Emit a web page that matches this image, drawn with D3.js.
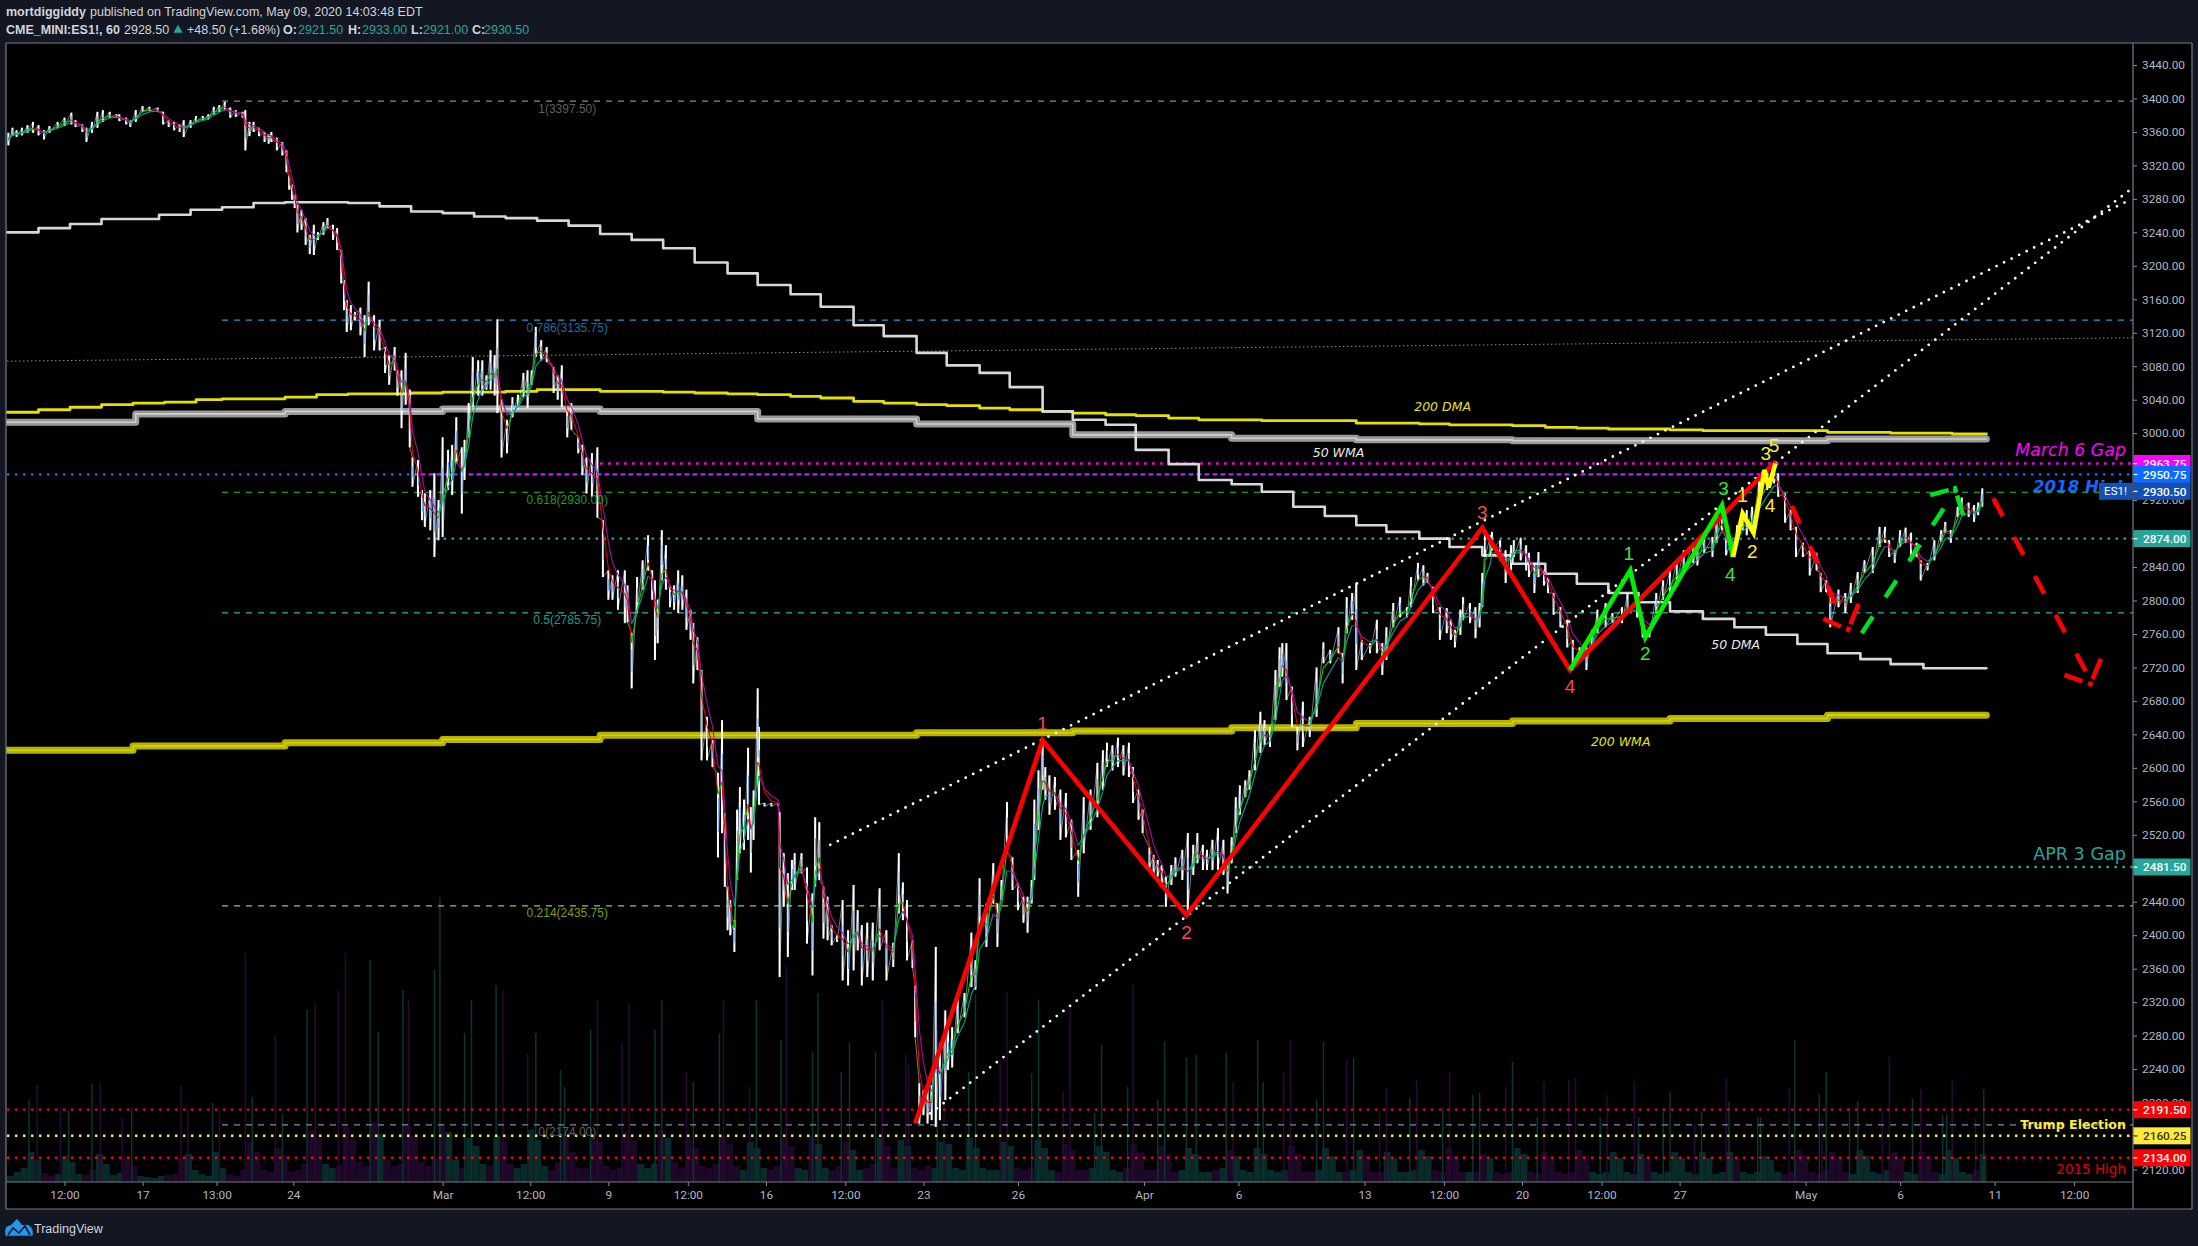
<!DOCTYPE html>
<html><head><meta charset="utf-8">
<script src="https://cdn.jsdelivr.net/npm/d3@7"></script>
<style>html,body{margin:0;padding:0;background:#131722}svg{display:block}</style>
</head><body><svg id="c" width="2198" height="1246"></svg>
<script>
// ---- candles, sampled by hand: bar number, high, low
const barIdx=[1,4,7,11,15,19,23,27,31,37,42,47,50,55,58,62,66,70,75,80,82,87,90,94,99,104,110,114,118,122,126,129,134,138,143,147,151,155,159,163,167,172,174,177,180,184,188,191,193,197,201,204,206,208,210,212,215,218,221,224,227,231,234,238,241,244,246,248,251,254,258,261,264,268,272,276,279,283,285,288,291,294,296,300,303,305,309,312,315,318,322,325,328,332,334,337,340,344,347,350,353,356,358,361,365,369,373,377,380,383,386,390,394,399,402,405,409,412,417,420,423,427,431,435,439,442,446,451,453,456,460,464,468,471,473,475,478,481,484,487,490,493,496,499,501,504,507,511,515,519,522,524,526,528,531,533,535,538,541,543,545,548,549,553,558,563,564,567,570,573,575,580,584,588,590,593,596,599,602,606,610,614,618,621,624,628,632,637,642,647,651,654,657,661,663,666,669,672,675,678,681,685,687,690,694,699,704,707,710,715,720,723,726,730,734,738,742,745,748,750,753,756,758,761,765,769,773,777,782,786,791,796,800,803,807,811,815,819,822,826,829,834,837,840,843,846,850,853,858,862,866,869,873,876,880,884,888,891,894,897,900,904,907,911,915,918,922,926,929,931,934,938,942,946,951,956,961,966,972,975,978,982,985,989,995,1000,1004,1007,1012,1017,1022,1025,1030,1034,1037,1041,1046,1051,1054,1057,1061,1063,1068,1072,1075,1077,1079,1083,1084,1090,1094,1098,1100,1105,1109,1111,1115,1118,1122,1125,1129,1134,1139,1143,1148,1153,1157,1161,1167,1172,1179,1183,1190,1194,1199,1204,1209,1214,1219,1224,1231,1234,1239,1245,1248,1252,1255,1259,1263,1267,1270,1274,1279,1285,1290,1293,1298,1302,1306,1311,1316,1321,1324,1328,1331,1337,1342,1346,1351,1356,1362,1367,1371,1374,1378,1382,1386,1390,1394,1397,1402,1407,1412,1415,1419,1424,1427,1432,1436,1439,1442];
const highs=[3359,3365,3362,3365,3368,3372,3368,3362,3367,3372,3377,3383,3374,3369,3365,3372,3384,3386,3384,3381,3381,3377,3374,3386,3391,3390,3389,3384,3374,3372,3369,3374,3374,3379,3379,3381,3390,3392,3396,3389,3386,3384,3386,3372,3372,3365,3360,3357,3360,3353,3348,3338,3308,3297,3285,3273,3267,3257,3237,3249,3240,3252,3257,3249,3245,3219,3183,3159,3153,3145,3150,3141,3181,3141,3135,3103,3093,3103,3075,3075,3096,3052,2971,2968,2932,2928,2932,2952,2920,2995,2980,2986,3019,2983,2992,3036,3091,3087,3087,3069,3099,3093,3136,3040,3016,3043,3046,3072,3075,3075,3127,3111,3103,3079,3069,3081,3031,3036,2995,2986,2971,2976,2983,2896,2836,2830,2836,2836,2818,2761,2828,2848,2878,2836,2824,2801,2884,2866,2818,2818,2836,2830,2813,2789,2773,2756,2717,2661,2633,2594,2657,2546,2458,2442,2418,2550,2577,2562,2624,2553,2573,2695,2649,2558,2558,2558,2547,2498,2474,2490,2498,2498,2481,2450,2541,2535,2458,2446,2412,2400,2442,2406,2460,2430,2412,2415,2415,2456,2406,2391,2498,2463,2442,2394,2340,2223,2215,2215,2221,2386,2271,2310,2287,2290,2326,2331,2403,2370,2468,2438,2486,2438,2466,2559,2493,2462,2446,2446,2466,2562,2597,2633,2601,2591,2589,2574,2570,2538,2502,2565,2574,2606,2621,2630,2627,2636,2627,2630,2601,2574,2550,2505,2496,2490,2484,2470,2484,2493,2502,2522,2508,2522,2508,2502,2514,2528,2514,2486,2517,2565,2579,2585,2597,2645,2667,2657,2649,2717,2744,2749,2749,2697,2649,2679,2661,2720,2750,2741,2768,2737,2804,2809,2821,2753,2749,2777,2749,2768,2797,2804,2792,2828,2845,2842,2833,2816,2792,2791,2777,2765,2789,2804,2797,2792,2797,2833,2881,2878,2882,2872,2860,2866,2872,2875,2866,2857,2845,2858,2836,2827,2809,2792,2777,2753,2744,2744,2765,2789,2797,2785,2792,2809,2801,2777,2768,2809,2824,2836,2848,2860,2869,2866,2876,2876,2900,2912,2876,2872,2890,2904,2908,2912,2944,2956,2964,2952,2928,2908,2888,2869,2860,2857,2833,2824,2804,2813,2809,2821,2834,2848,2864,2888,2888,2872,2860,2884,2887,2881,2869,2848,2845,2872,2884,2894,2884,2912,2923,2917,2914,2917,2934];
const lows=[3344,3356,3354,3356,3359,3359,3356,3351,3359,3365,3367,3369,3366,3360,3348,3359,3365,3372,3377,3377,3373,3369,3366,3372,3384,3385,3384,3369,3366,3362,3360,3354,3365,3372,3374,3375,3381,3384,3386,3377,3378,3377,3338,3355,3360,3355,3348,3346,3348,3338,3332,3312,3291,3279,3269,3240,3243,3225,3214,3213,3231,3237,3245,3231,3219,3179,3147,3121,3123,3135,3117,3091,3129,3099,3099,3072,3058,3075,3045,3006,3034,2983,2936,2924,2896,2888,2884,2852,2872,2876,2932,2926,2964,2904,2944,2995,3031,3045,3045,3052,3052,3045,3024,2971,2976,3019,3028,3043,3030,3058,3091,3087,3085,3048,3040,3031,2995,3004,2976,2950,2928,2924,2899,2828,2801,2801,2789,2773,2774,2695,2785,2813,2836,2801,2729,2749,2824,2813,2792,2789,2785,2789,2765,2753,2701,2717,2609,2609,2601,2493,2522,2458,2406,2400,2380,2466,2498,2502,2514,2475,2514,2577,2556,2554,2554,2554,2350,2434,2374,2454,2454,2474,2390,2352,2458,2466,2396,2394,2388,2392,2346,2340,2358,2382,2340,2350,2346,2382,2346,2362,2426,2418,2370,2361,2278,2175,2185,2175,2179,2171,2179,2203,2239,2242,2283,2302,2338,2335,2403,2386,2438,2386,2442,2498,2454,2430,2415,2403,2438,2466,2526,2574,2562,2544,2550,2514,2517,2490,2446,2498,2526,2541,2574,2601,2597,2601,2591,2589,2558,2538,2522,2478,2472,2470,2460,2434,2460,2470,2466,2426,2472,2486,2478,2478,2478,2478,2472,2450,2486,2522,2544,2565,2574,2597,2618,2627,2625,2657,2697,2709,2681,2649,2621,2625,2637,2661,2725,2725,2737,2701,2761,2777,2717,2729,2737,2737,2711,2729,2768,2780,2780,2792,2824,2818,2821,2785,2753,2761,2753,2744,2759,2777,2773,2755,2768,2792,2852,2854,2860,2848,2821,2836,2852,2848,2836,2828,2809,2828,2818,2809,2783,2768,2744,2717,2729,2717,2741,2761,2768,2773,2773,2785,2780,2756,2756,2785,2801,2809,2822,2836,2845,2842,2857,2852,2869,2884,2854,2852,2866,2884,2878,2881,2917,2932,2940,2924,2893,2884,2852,2852,2830,2836,2810,2810,2768,2792,2785,2797,2809,2833,2833,2864,2869,2852,2845,2864,2869,2852,2852,2824,2836,2848,2870,2881,2869,2900,2908,2900,2894,2902,2912];

// ---- volume: hourly-session background samples and the spikes above them
const volFloor=[6,10,14,30,22,9,6,8,26,20,8,7,12,28,18,7,9,24,16,6,5,4,6,7,8,24,28,12,8,6,30,14,8,6,12,40,30,12,10,34,26,10,12,18,52,44,18,14,16,55,42,20,16,60,48,22,16,18,56,46,20,16,24,58,50,22,14,44,36,18,16,46,40,18,14,18,52,42,16,12,20,48,30,14,14,44,40,16,12,14,50,42,18,14,18,52,44,20,14,42,34,16,14,18,46,38,16,12,40,34,14,12,16,44,36,14,12,46,38,14,12,16,40,32,12,14,18,44,36,14,42,36,14,12,16,14,40,38,14,12,44,34,14,12,12,40,36,14,12,14,42,34,12,10,38,32,12,12,14,36,30,12,10,14,38,30,12,12,36,28,10,12,34,28,10,10,12,14,32,26,12,10,34,28,12,10,12,36,28,10,10,12,34,26,10,10,12,32,26,10,10,30,24,10,10,12,32,26,12,10,34,26,10,10,10,28,24,10,8,10,34,28,10,8,30,24,10,8,10,32,26,10,8,10,30,24,10,8,28,24,10,8,10,30,24,10,8,30,24,8,10,30,24,10,8,10,26,22,10,8,10,32,26,10,8,12,30,24,10,8,32,26,10,8,12,30,24,10,8,30,26,10,8,32,24,10,8,12,28];
const spikeBars=[16,22,39,45,62,68,84,91,127,132,150,155,174,179,196,201,219,225,242,247,265,271,289,293,312,316,334,339,357,362,380,386,404,407,426,431,449,454,473,478,496,501,520,523,542,547,565,569,588,592,609,615,634,639,656,658,679,684,702,707,725,730,748,753,771,776,794,799,818,822,840,845,861,868,890,895,913,917,932,937,956,961,978,983,1002,1007,1024,1029,1048,1053,1070,1075,1094,1099,1117,1122,1140,1145,1163,1168,1188,1191,1209,1214,1232,1237,1255,1257,1278,1280,1301,1305,1323,1325,1328,1345,1351,1369,1374,1391,1397,1413,1416,1420,1437,1443];
const spikeVols=[82,97,75,72,98,99,65,74,97,72,79,72,229,85,147,69,172,179,192,229,222,150,192,182,212,285,149,182,197,192,129,149,112,95,153,182,139,179,152,182,110,100,149,182,95,182,142,216,130,189,110,139,130,182,127,119,152,173,110,188,122,190,109,182,90,175,69,137,95,198,82,140,125,127,129,100,142,100,110,142,83,140,122,124,69,94,84,102,75,110,87,89,95,120,65,100,102,104,65,87,100,65,74,90,59,70,104,80,65,65,94,142,88,65,110,74,81,70,125,83,93,67,68,102,63,93];
const spikeUp=[1,0,0,1,1,0,0,1,0,0,1,0,0,1,0,1,1,0,0,0,1,1,1,0,1,1,1,1,1,0,0,1,1,1,1,0,0,0,1,1,0,1,1,0,0,1,1,0,1,1,1,1,1,0,0,0,1,0,1,1,0,0,1,1,0,0,1,1,1,0,1,1,1,1,1,0,1,1,0,0,1,1,0,1,0,0,1,0,1,0,1,1,0,1,1,0,0,0,1,0,0,1,1,1,0,1,0,1,1,1,0,1,1,0,1,1,1,0,0,1,0,1,1,0,0,1];

// ---- moving averages as weekly / daily steps: first bar of each step, value
const dma50Bars=[0,23,46,69,111,134,157,180,203,249,272,295,318,341,364,387,410,433,456,479,502,526,548,572,594,618,640,664,686,710,732,756,778,802,824,848,870,894,916,939,962,985,1007,1031,1053,1077,1099,1123,1146,1169,1191,1214,1238,1261,1284,1307,1329,1353,1375,1399,1445];
const dma50Vals=[3240,3245,3250,3256,3261,3267,3270,3275,3276,3275,3271,3265,3263,3259,3257,3254,3248,3238,3231,3221,3204,3191,3177,3166,3151,3129,3116,3096,3081,3072,3055,3026,3016,3010,2980,2963,2944,2939,2930,2912,2901,2890,2882,2874,2864,2854,2844,2832,2820,2809,2798,2787,2778,2768,2759,2748,2737,2730,2724,2719,2719];
const dma200Bars=[0,23,46,69,92,115,138,157,180,203,226,249,295,318,364,387,433,479,502,526,548,572,594,618,640,664,686,710,732,756,778,802,824,848,870,894,916,939,985,1031,1053,1099,1123,1146,1169,1214,1238,1307,1329,1375,1420,1445];
const dma200Vals=[3025,3028,3031,3034,3036,3037,3040,3041,3041,3043,3046,3047,3048,3049,3050,3052,3050,3049,3048,3047,3046,3044,3042,3038,3036,3034,3033,3030,3028,3026,3024,3022,3021,3018,3016,3016,3015,3015,3012,3011,3010,3009,3007,3006,3005,3004,3003,3003,3001,3000,2999,2999];
const wma50Bars=[0,94,203,318,433,548,664,778,894,985,1099,1214,1329,1445];
const wma50Vals=[3013,3023,3026,3029,3026,3017,3011,2998,2994,2992,2991,2991,2993,2993];
const wma200Bars=[0,92,203,318,433,664,778,894,985,1099,1214,1329,1445];
const wma200Vals=[2621,2626,2630,2634,2639,2642,2644,2648,2653,2656,2659,2663,2663];

// ---- horizontal levels
const fibPrices=[3397.5,3135.75,2930,2785.75,2435.75,2174];
const fibLabels=["1(3397.50)","0.786(3135.75)","0.618(2930.00)","0.5(2785.75)","0.214(2435.75)","0(2174.00)"];
const fibLine=["#8a8a8a","#1e9be0","#22c922","#26b89a","#a9c81e","#8a8a8a"];
const fibText=["#5f5f5f","#1d6d9e","#1f9c1f","#1c9c84","#7e9a10","#5f5f5f"];
const levelPrices=[2963.75,2950.75,2874,2481.5,2191.5,2160.25,2134];
const levelFrom=[433,0,307,896,0,0,0];
const levelColor=["#ff00ff","#1e6bff","#26a69a","#26a69a","#ff0000","#ffeb3b","#ff0000"];

// ---- wave counts and drawn lines: [bar, price]
const redWave=[[663,2175],[756,2633],[861,2424],[1077,2887],[1141,2717],[1291,2966]];
const greenWave=[[1141,2717],[1185,2836],[1196,2756],[1252,2914],[1260,2852]];
const yellowWave=[[1260,2852],[1267,2904],[1275,2881],[1283,2956],[1286,2935],[1291,2964]];
const redDash1=[[1303,2913],[1337,2788]];
const redDash2=[[1326,2778],[1344,2765],[1353,2801]];
const redDash3=[[1450,2922],[1518,2714]];
const redDash4=[[1502,2711],[1521,2700],[1529,2732]];
const greenDash1=[[1354,2761],[1415,2913]];
const greenDash2=[[1404,2926],[1422,2934],[1428,2902]];
const trendUpper=[[601,2508],[1550,3279]];
const trendLower=[[674,2187],[1550,3291]];
const trendFaint=[[0,3086],[1552,3114]];
const waveText=[["1",756,2653,"#f44b4b"],["2",861,2404,"#f44b4b"],["3",1077,2906,"#f44b4b"],["4",1141,2698,"#f44b4b"],
 ["1",1184,2857,"#3fe03f"],["2",1196,2737,"#3fe03f"],["3",1253,2934,"#3fe03f"],["4",1258,2832,"#3fe03f"],
 ["1",1267,2926,"#ffeb3b"],["2",1274,2859,"#ffeb3b"],["3",1284,2976,"#ffeb3b"],["4",1287,2914,"#ffeb3b"],["5",1290,2986,"#ffeb3b"]];
const maText=[["200 DMA",1048,3032,"#e6e020"],["50 WMA",972,2977,"#e8e8e8"],["50 DMA",1262,2747,"#e8e8e8"],["200 WMA",1178,2632,"#e6e020"]];

// ---- axes
const priceTicks=d3.range(2120,3441,40);
const timeBars=[42,99,153,209,318,382,439,497,554,612,669,738,830,899,991,1049,1106,1164,1221,1313,1382,1451,1509];
const timeText=["12:00","17","13:00","24","Mar","12:00","9","12:00","16","12:00","23","26","Apr","6","13","12:00","20","12:00","27","May","6","11","12:00"];
const boxPrices=[2963.75,2950.75,2930.5,2874,2481.5,2191.5,2160.25,2134];
const boxFill=["#ff00ff","#0d6bff","#1450b4","#26a69a","#26a69a","#ff0000","#ffeb3b","#ff0000"];
const boxInk=["#fff","#fff","#fff","#fff","#fff","#fff","#333","#fff"];

const L=6,R=2133,T=43,B=1182,RR=2192,BB=1209;
const svg=d3.select("#c");
const FONT="'Liberation Sans',Arial,sans-serif", VERD="'DejaVu Sans',sans-serif";
svg.append("rect").attr("width",2198).attr("height",1246).attr("fill","#131722");
svg.append("rect").attr("x",L).attr("y",T).attr("width",RR-L).attr("height",BB-T).attr("fill","#000");
svg.append("clipPath").attr("id","pane").append("rect").attr("x",L).attr("y",T).attr("width",R-L).attr("height",B-T);

const x=d3.scaleLinear().domain([0,1552]).range([7,2133]);
const y=d3.scaleLinear().domain([3440,2120]).range([65,1169.5]);
const v=d3.scaleLinear().domain([0,300]).range([B,B-300]);

// the "2018 High" note sits under the chart marks and the price tag
svg.append("text").attr("x",2033).attr("y",y(2937)).attr("dy","0.36em").attr("font-family",VERD).attr("font-style","italic").attr("font-weight","bold").attr("font-size",16.6).attr("fill","#1565ff").text("2018 High");

const pane=svg.append("g").attr("clip-path","url(#pane)");
const line=d3.line().x(d=>x(d[0])).y(d=>y(d[1]));
const step=d3.line().x(d=>x(d[0])).y(d=>y(d[1])).curve(d3.curveStepAfter);
const zip=(a,b)=>a.map((d,i)=>[d,b[i]]);

// volume
const TEAL="#082a29",PURP="#1e0828";
const mids=highs.map((h,i)=>(h+lows[i])/2);
const floorW=x(5)-x(0);
pane.append("g").selectAll("rect").data(volFloor).join("rect")
 .attr("x",(d,i)=>x(i*5)).attr("width",floorW).attr("y",d=>v(d)).attr("height",d=>B-v(d))
 .attr("fill",(d,i)=>{const k=d3.bisectLeft(barIdx,i*5),a=mids[Math.max(0,k-3)],b=mids[Math.min(mids.length-1,k)];return b>=a?TEAL:PURP;});
pane.append("g").selectAll("rect").data(spikeBars).join("rect")
 .attr("x",d=>x(d)-0.7).attr("width",1.5).attr("y",(d,i)=>v(spikeVols[i])).attr("height",(d,i)=>B-v(spikeVols[i]))
 .attr("fill",(d,i)=>spikeUp[i]?"#0a3432":"#280a36");

// fib levels
const fibFrom=157;
pane.append("g").selectAll("line").data(fibPrices).join("line")
 .attr("x1",x(fibFrom)).attr("x2",R).attr("y1",d=>y(d)+.5).attr("y2",d=>y(d)+.5)
 .attr("stroke",(d,i)=>fibLine[i]).attr("stroke-width",1.2).attr("stroke-dasharray","6,6");
svg.append("g").selectAll("text").data(fibLabels).join("text")
 .attr("x",x(409)).attr("y",(d,i)=>y(fibPrices[i])+12).attr("text-anchor","middle")
 .attr("font-family",FONT).attr("font-size",12).attr("fill",(d,i)=>fibText[i]).text(d=>d);

// faint trend line
pane.append("path").attr("d",line(trendFaint)).attr("fill","none").attr("stroke","#8f8f8f").attr("stroke-width",1).attr("stroke-dasharray","1.5,2.5");

// dotted levels
pane.append("g").selectAll("line").data(levelPrices).join("line")
 .attr("x1",(d,i)=>x(levelFrom[i])).attr("x2",R).attr("y1",d=>y(d)).attr("y2",d=>y(d))
 .attr("stroke",(d,i)=>levelColor[i]).attr("stroke-width",2.4).attr("stroke-dasharray","2.5,5.5");
pane.append("line").attr("x1",x(299)).attr("x2",x(1420)).attr("y1",y(2950.75)).attr("y2",y(2950.75))
 .attr("stroke","#ff00ff").attr("stroke-width",2.4).attr("stroke-dasharray","2.5,5.5").attr("stroke-dashoffset",4);

// stepped averages
const stair=(b,vals,c,w)=>pane.append("path").attr("d",step(zip(b,vals))).attr("fill","none").attr("stroke",c).attr("stroke-width",w).attr("stroke-linejoin","round").attr("stroke-linecap","round");
stair(wma200Bars,wma200Vals,"#b5b100",7); stair(wma200Bars,wma200Vals,"#d6d20a",1.6);
stair(wma50Bars,wma50Vals,"#9a9a9a",7); stair(wma50Bars,wma50Vals,"#cfcfcf",1.6);
stair(dma200Bars,dma200Vals,"#e4e000",2.8);
stair(dma50Bars,dma50Vals,"#d8d8d8",2.6);

// candles
const zig=[];barIdx.forEach((b,i)=>{zig.push([b,highs[i]]);zig.push([b,lows[i]]);});
pane.append("path").attr("d",line(zig)).attr("fill","none").attr("stroke","#ffffff").attr("stroke-width",.8).attr("opacity",.6);
pane.append("g").selectAll("rect").data(barIdx).join("rect")
 .attr("x",d=>x(d)-1).attr("width",2).attr("y",(d,i)=>y(highs[i])).attr("height",(d,i)=>y(lows[i])-y(highs[i])).attr("fill","#fff");
pane.append("g").selectAll("rect").data(barIdx).join("rect")
 .attr("x",d=>x(d)-.1).attr("width",.9).attr("y",(d,i)=>y(highs[i])+(y(lows[i])-y(highs[i]))*.3).attr("height",(d,i)=>(y(lows[i])-y(highs[i]))*.4).attr("fill","#5d9cec");

// trend-coloured averages computed from the candles
function ema(a,al){const o=[];a.forEach((d,i)=>o.push(i?o[i-1]+al*(d-o[i-1]):d));return o;}
function drawMa(al,up,dn,w){
 const m=ema(mids,al);
 pane.append("g").selectAll("line").data(m.slice(1)).join("line")
  .attr("x1",(d,i)=>x(barIdx[i])).attr("x2",(d,i)=>x(barIdx[i+1]))
  .attr("y1",(d,i)=>y(m[i])).attr("y2",d=>y(d))
  .attr("stroke",(d,i)=>d>=m[i]?up:dn).attr("stroke-width",w);
}
drawMa(.7,"#00d000","#e00000",1.1);
drawMa(.45,"#0aa0a0","#a3129f",1.1);

// dotted channel lines
[trendUpper,trendLower].forEach(t=>pane.append("path").attr("d",line(t)).attr("fill","none").attr("stroke","#fff").attr("stroke-width",2.8).attr("stroke-linecap","round").attr("stroke-dasharray","0,8.4"));

// waves
const wave=(p,c,w,dash)=>pane.append("path").attr("d",line(p)).attr("fill","none").attr("stroke",c).attr("stroke-width",w).attr("stroke-linejoin","miter").attr("stroke-dasharray",dash||null);
wave(redWave,"#ff0000",4.6);
wave(greenWave,"#00f000",4.6);
wave(yellowWave,"#ffff00",4.6);
wave(redDash1,"#ff0000",4.6,"19,25");
wave(redDash2,"#ff0000",4.6,"19,6,5,3,22");
wave(redDash3,"#ff0000",4.6,"20,24");
wave(redDash4,"#ff0000",4.6,"19,6,5,3,22");
wave(greenDash1,"#00e020",4.6,"20,23");
wave(greenDash2,"#00e020",4.6,"19,5,6,3,22");

svg.append("g").selectAll("text").data(waveText).join("text")
 .attr("x",d=>x(d[1])).attr("y",d=>y(d[2])).attr("dy","0.36em").attr("text-anchor","middle")
 .attr("font-family",FONT).attr("font-size",19).attr("fill",d=>d[3]).text(d=>d[0]);
svg.append("g").selectAll("text").data(maText).join("text")
 .attr("x",d=>x(d[1])).attr("y",d=>y(d[2])).attr("dy","0.36em").attr("text-anchor","middle")
 .attr("font-family",VERD).attr("font-style","italic").attr("font-size",12.5).attr("fill",d=>d[3]).text(d=>d[0]);

// axes
const axisInk="#b4b7c0";
const gy=svg.append("g").attr("transform",`translate(${R},0)`).call(d3.axisRight(y).tickValues(priceTicks).tickFormat(d3.format(".2f")).tickSize(4).tickPadding(5));
gy.select(".domain").remove();
gy.selectAll("line").attr("stroke","#8a8d96");
gy.selectAll("text").attr("fill",axisInk).attr("font-family","Roboto,sans-serif").attr("font-size",11.8);
const gx=svg.append("g").attr("transform",`translate(0,${B})`).call(d3.axisBottom(x).tickValues(timeBars).tickFormat((d,i)=>timeText[i]).tickSize(4).tickPadding(5));
gx.select(".domain").remove();
gx.selectAll("line").attr("stroke","#8a8d96");
gx.selectAll("text").attr("fill",axisInk).attr("font-family","Roboto,sans-serif").attr("font-size",11.8);

// frame
const frame=(a,b,c,d)=>svg.append("line").attr("x1",a).attr("y1",b).attr("x2",c).attr("y2",d).attr("stroke","#787b86").attr("stroke-width",1.2);
frame(L,T,RR,T);frame(L,T,L,BB);frame(RR,T,RR,BB);frame(L,BB,RR,BB);frame(R,T,R,BB);frame(L,B,R,B);

// right-side notes
const note=(s,p,c,size,o={})=>svg.append("text").attr("x",2126).attr("y",y(p)).attr("dy","0.36em").attr("text-anchor","end")
 .attr("font-family",VERD).attr("font-size",size).attr("fill",c).attr("font-style",o.it?"italic":null).attr("font-weight",o.b?"bold":null).text(s);
note("March 6 Gap",2980,"#ff00ff",17.4,{it:1});
note("APR 3 Gap",2498,"#26a69a",17.6);
note("Trump Election",2174,"#ffeb3b",12.6,{b:1});
note("2015 High",2120,"#e00000",13.5);

// right price boxes
const boxes=svg.append("g");
boxPrices.forEach((p,i)=>{
 boxes.append("rect").attr("x",R+.5).attr("y",y(p)-8.5).attr("width",57).attr("height",17).attr("fill",boxFill[i]);
 boxes.append("rect").attr("x",R+.5).attr("y",y(p)-.5).attr("width",4).attr("height",1.2).attr("fill",i==6?"#333":"#fff");
 boxes.append("text").attr("x",R+10).attr("y",y(p)).attr("dy","0.36em").attr("font-family","Roboto,sans-serif").attr("font-weight",500).attr("font-size",11.8).attr("fill",boxInk[i]).text(p.toFixed(2));
});
boxes.append("rect").attr("x",2099).attr("y",y(2930.5)-8.5).attr("width",33).attr("height",17).attr("fill","#1450b4");
boxes.append("text").attr("x",2115.5).attr("y",y(2930.5)).attr("dy","0.36em").attr("text-anchor","middle").attr("font-family","Roboto,sans-serif").attr("font-size",11.5).attr("fill","#fff").text("ES1!");

// header
const head=(s,xx,yy,c,b)=>svg.append("text").attr("x",xx).attr("y",yy).attr("font-family",FONT).attr("font-size",12.5).attr("fill",c).attr("font-weight",b?"bold":null).text(s);
const W="#d1d4dc",G="#26a69a";
head("mortdiggiddy",6,16,W,1);
head("published on TradingView.com, May 09, 2020 14:03:48 EDT",90,16,W);
head("CME_MINI:ES1!, 60",6,34,W,1);
head("2928.50",124,34,W);
svg.append("path").attr("d",d3.symbol(d3.symbolTriangle,36)()).attr("transform","translate(178,30) ").attr("fill",G);
head("+48.50 (+1.68%)",187,34,W);
head("O:",283,34,W,1);head("2921.50",298,34,G);
head("H:",348,34,W,1);head("2933.00",362,34,G);
head("L:",411,34,W,1);head("2921.00",423,34,G);
head("C:",472,34,W,1);head("2930.50",484,34,G);

// logo
svg.append("path").attr("d","M6 1235 L6 1230 Q7 1226 11 1226 L17 1220 L22 1226 Q31 1224 32 1232 L32 1235 Z").attr("fill","#2196f3").attr("stroke","#2196f3").attr("stroke-linejoin","round").attr("stroke-width",1.5);
svg.append("path").attr("d","M8 1235 L13 1228 L19 1233 L25 1226 L30 1235").attr("fill","none").attr("stroke","#131722").attr("stroke-width",1.6);
svg.append("text").attr("x",34).attr("y",1232.5).attr("font-family",FONT).attr("font-size",12.5).attr("fill",W).text("TradingView");
</script></body></html>
